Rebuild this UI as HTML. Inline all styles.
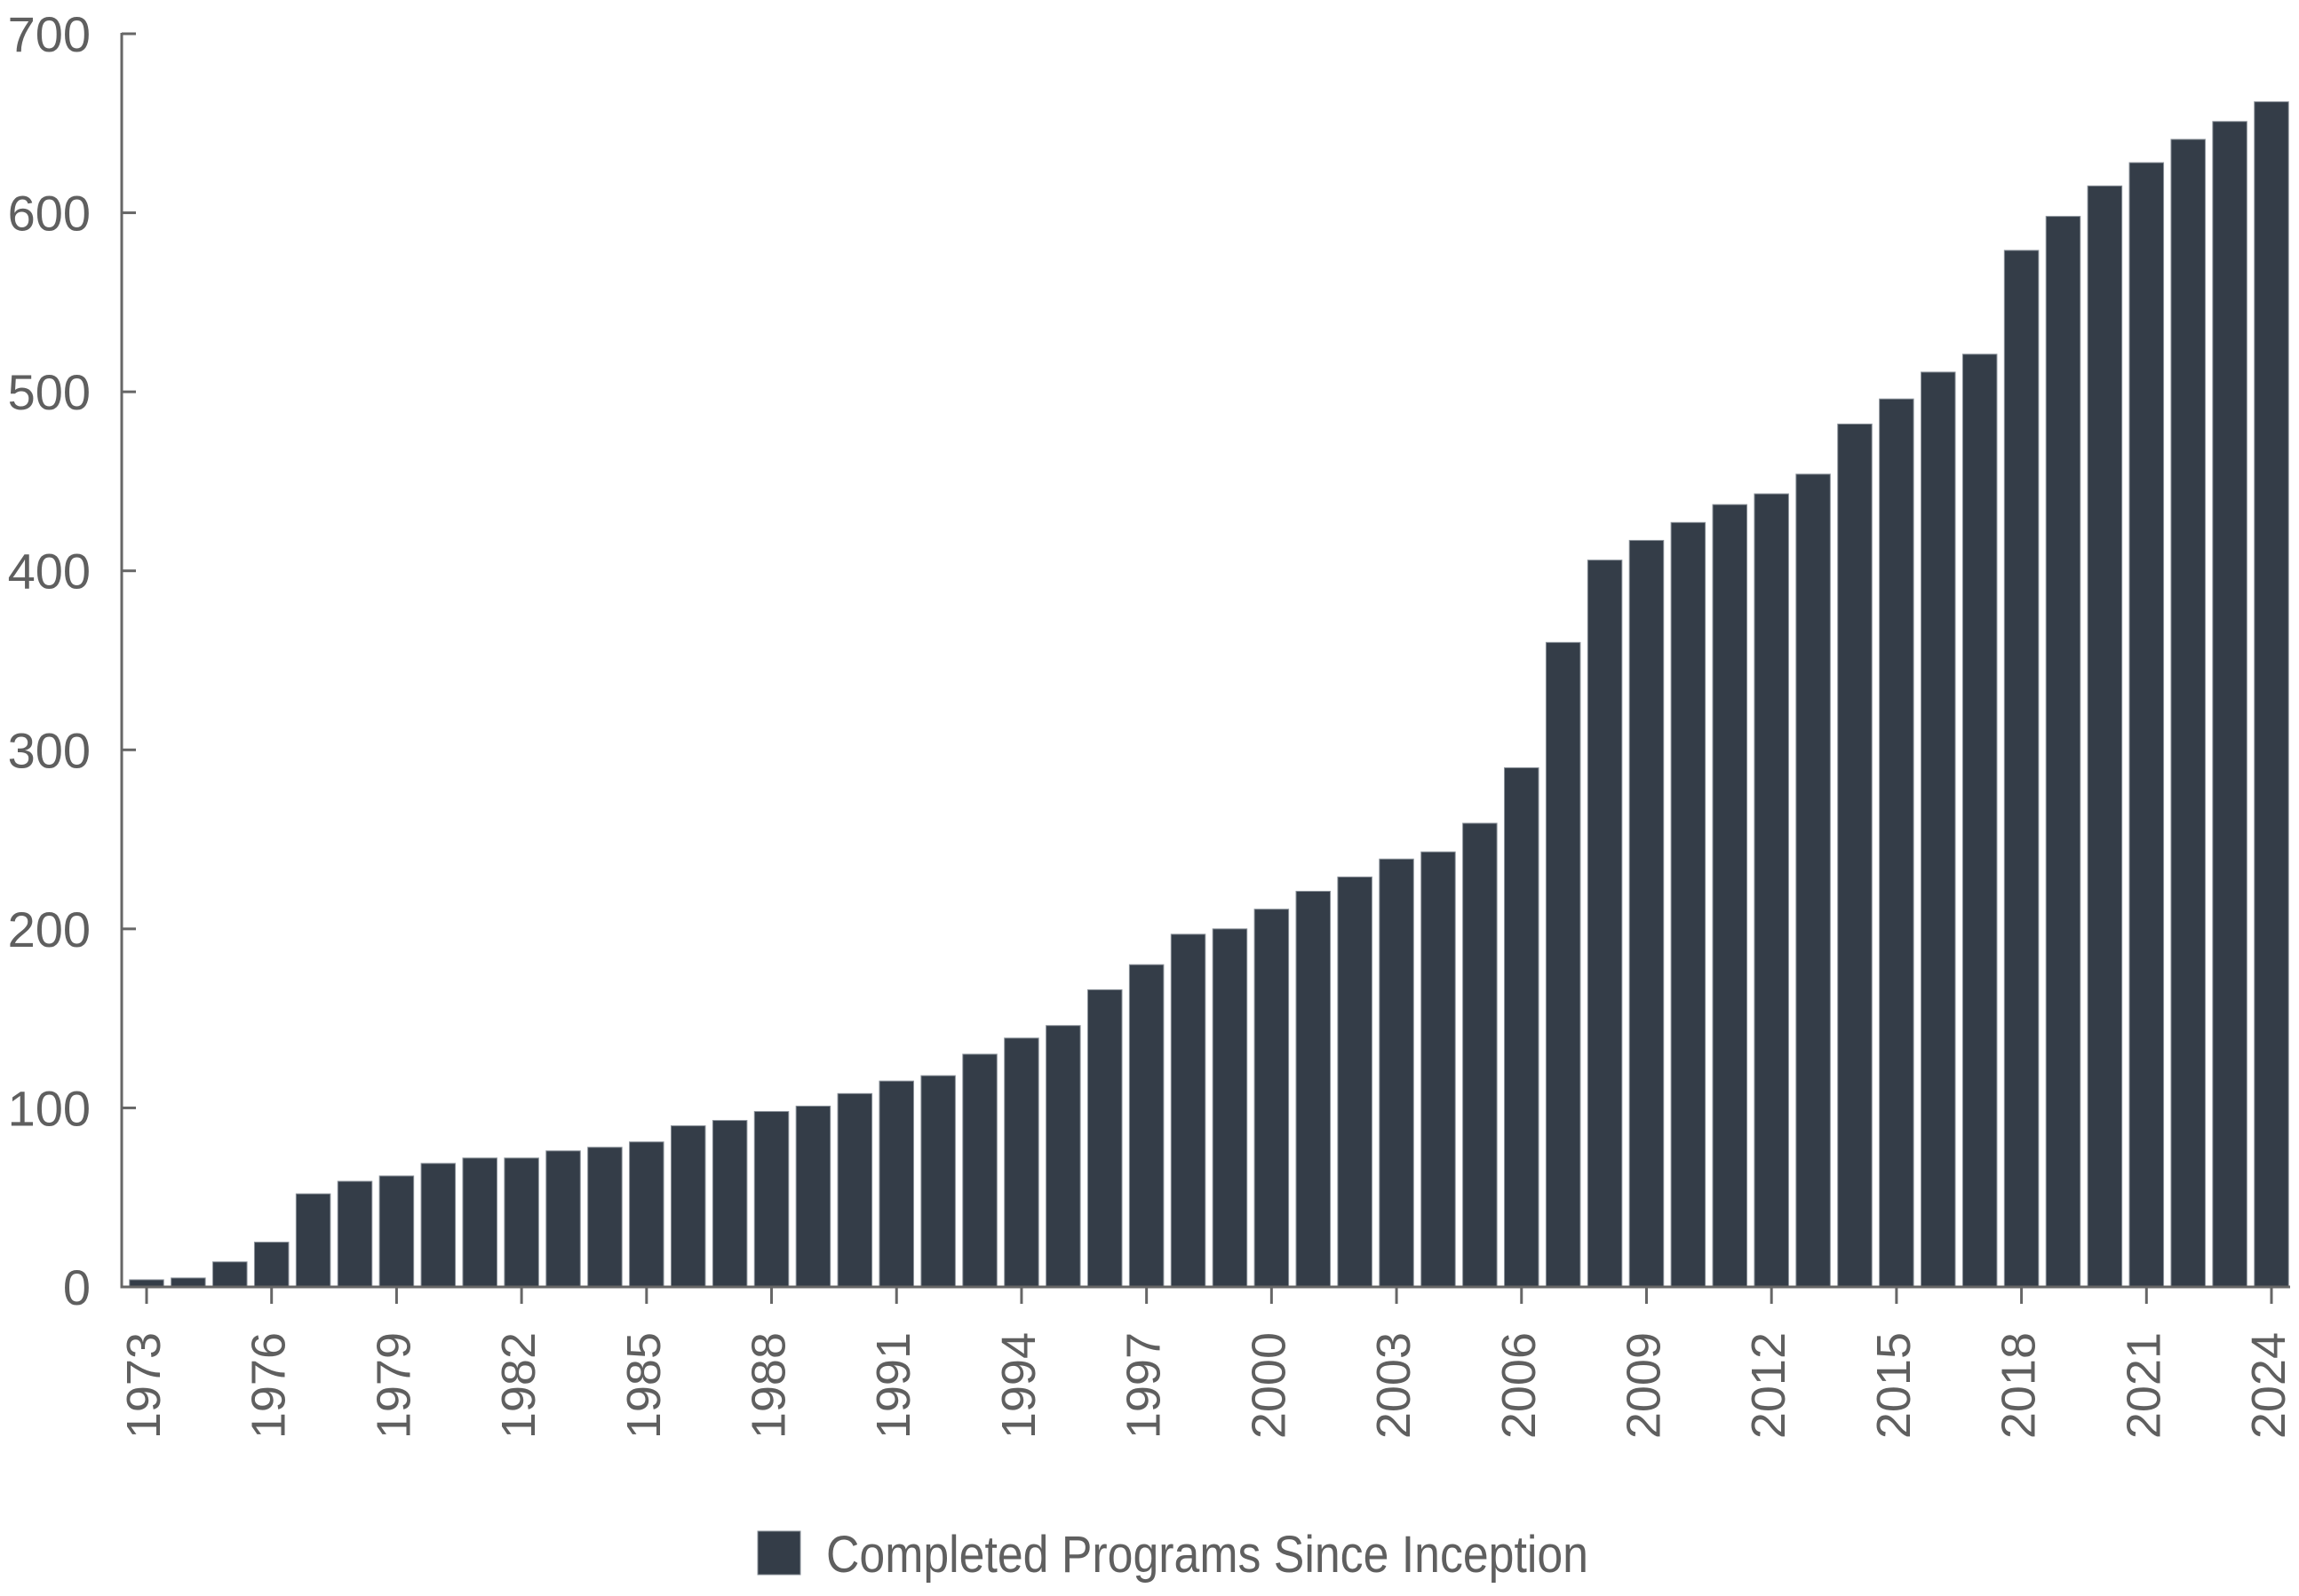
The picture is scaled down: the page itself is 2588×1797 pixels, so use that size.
<!DOCTYPE html>
<html><head><meta charset="utf-8"><style>
html,body{margin:0;padding:0;background:#fff;}
svg{display:block;font-family:"Liberation Sans",Arial,sans-serif;}
</style></head><body>
<svg id="chart" width="2588" height="1797" viewBox="0 0 2588 1797" xmlns="http://www.w3.org/2000/svg">
<g id="bars"></g>
<g id="yaxis"></g>
<g id="xaxis"></g>
<g>
<rect x="853" y="1724" width="48" height="49" fill="#343d48" stroke="#8a9199" stroke-width="1"/>
<text x="930" y="1770" font-size="58" fill="#5f5f5f" textLength="858" lengthAdjust="spacingAndGlyphs">Completed Programs Since Inception</text>
</g>
</svg>
<script>
const years = [1973,1974,1975,1976,1977,1978,1979,1980,1981,1982,1983,1984,1985,1986,1987,1988,1989,1990,1991,1992,1993,1994,1995,1996,1997,1998,1999,2000,2001,2002,2003,2004,2005,2006,2007,2008,2009,2010,2011,2012,2013,2014,2015,2016,2017,2018,2019,2020,2021,2022,2023,2024];
const values = [4,5,14,25,52,59,62,69,72,72,76,78,81,90,93,98,101,108,115,118,130,139,146,166,180,197,200,211,221,229,239,243,259,290,360,406,417,427,437,443,454,482,496,511,521,579,598,615,628,641,651,662];
const yTicks = [0,100,200,300,400,500,600,700];
const xTickLabels = [1973,1976,1979,1982,1985,1988,1991,1994,1997,2000,2003,2006,2009,2012,2015,2018,2021,2024];

const NS='http://www.w3.org/2000/svg';
const X0=137, Y0=1449, YTOP=38, YMAX=700;
const firstC=165, lastC=2557;
const step=(lastC-firstC)/(years.length-1);
const barW=38.5;
function xScale(yr){return firstC+(yr-years[0])*step;}
function yScale(v){return Y0-(v/YMAX)*(Y0-YTOP);}
function mk(tag,attrs,parent){const e=document.createElementNS(NS,tag);for(const k in attrs)e.setAttribute(k,attrs[k]);parent.appendChild(e);return e;}

const gb=document.getElementById('bars');
years.forEach((yr,i)=>{
  const y=yScale(values[i]);
  const r=mk('rect',{x:xScale(yr)-barW/2,y:y,width:barW,height:Y0-y,fill:'#343d48',stroke:'#8a9199','stroke-width':1},gb);
  
  
});

const gy=document.getElementById('yaxis');
const ya=mk('line',{x1:X0,y1:YTOP-1,x2:X0,y2:Y0+1,stroke:'#666',"stroke-width":3},gy);


yTicks.forEach(v=>{
  const y=yScale(v);
  const t=mk('line',{x1:X0,y1:y,x2:X0+16,y2:y,stroke:'#666','stroke-width':3},gy);
  
  
  const l=mk('text',{x:102,y:y+20,'text-anchor':'end','font-size':56,fill:'#5f5f5f'},gy);
  l.textContent=v;
  
  
});

const gx=document.getElementById('xaxis');
const xa=mk('line',{x1:X0-1.5,y1:Y0,x2:2578,y2:Y0,stroke:'#666','stroke-width':3},gx);


xTickLabels.forEach(yr=>{
  const x=xScale(yr);
  const t=mk('line',{x1:x,y1:Y0,x2:x,y2:Y0+19,stroke:'#666','stroke-width':3},gx);
  
  
  const l=mk('text',{x:0,y:0,'text-anchor':'end','font-size':54,fill:'#5f5f5f',transform:'translate('+(x+15)+','+1500+') rotate(-90)'},gx);
  l.textContent=yr;
  
  
});
</script>
</body></html>
